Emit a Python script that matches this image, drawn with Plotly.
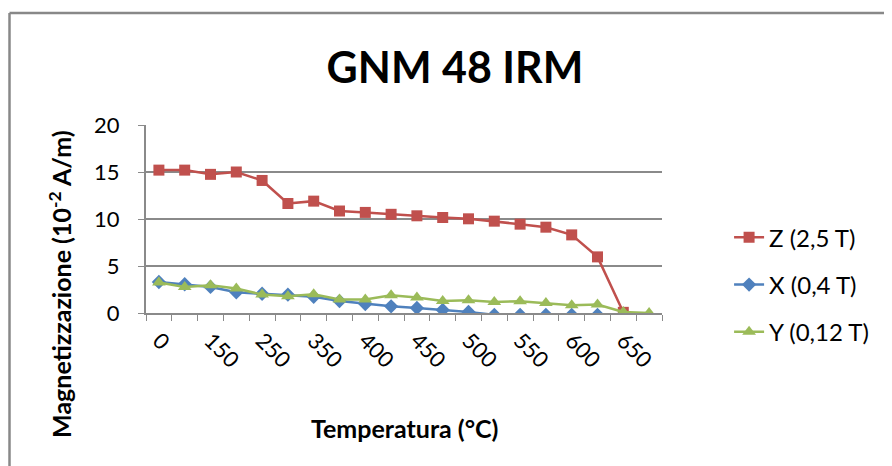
import plotly.graph_objects as go

temperatures = ["0", "100", "150", "200", "250", "300", "350", "375", "400", "425",
                "450", "475", "500", "525", "550", "575", "600", "625", "650", "675"]
tick_labels = ["0", "", "150", "", "250", "", "350", "", "400", "",
               "450", "", "500", "", "550", "", "600", "", "650", ""]

z_25T = [15.2, 15.2, 14.75, 15.0, 14.1, 11.65, 11.9, 10.85, 10.7, 10.5,
         10.34, 10.16, 10.02, 9.77, 9.45, 9.13, 8.31, 5.97, 0.07]
x_04T = [3.3, 3.06, 2.77, 2.2, 2.05, 1.95, 1.72, 1.27, 0.95, 0.71,
         0.53, 0.33, 0.11, -0.2, -0.2, -0.2, -0.2, -0.2, -0.2]
y_012T = [3.24, 2.77, 2.95, 2.6, 1.96, 1.78, 1.99, 1.43, 1.43, 1.89,
          1.64, 1.28, 1.35, 1.17, 1.25, 1.07, 0.82, 0.9, 0.1, 0.0]

FONT = "Lato"
GRID = "#8a8a8a"
OFF = 8  # page body margin

fig = go.Figure()
series = [
    ("Z (2,5 T)", z_25T, "#C0504D", "square", 11),
    ("X (0,4 T)", x_04T, "#4F81BD", "diamond", 11),
    ("Y (0,12 T)", y_012T, "#9BBB59", "triangle-up", 12),
]
for name, values, color, symbol, size in series:
    fig.add_scatter(
        x=temperatures[:len(values)], y=values, name=name, mode="lines+markers",
        line=dict(color=color, width=2.5),
        marker=dict(symbol=symbol, size=size, color=color),
        legendgroup=name,
    )

fig.update_layout(
    width=892, height=466,
    margin=dict(l=146 - OFF, r=892 - 662 + OFF, t=125 - OFF, b=466 - 313 + OFF),
    paper_bgcolor="white", plot_bgcolor="white",
    font=dict(family=FONT, size=22, color="black"),
    title=dict(text="<b>GNM 48 IRM</b>", font=dict(size=43, family=FONT),
               x=(455 - OFF) / 892, xanchor="center",
               y=1 - (68 - OFF) / 466, yanchor="middle"),
    legend=dict(x=1.13, xanchor="left", y=0.52, yanchor="top",
                tracegroupgap=13, font=dict(size=24)),
    showlegend=True,
)
fig.update_xaxes(
    type="category", categoryorder="array", categoryarray=temperatures,
    range=[-0.5, len(temperatures) - 0.5],
    tickvals=temperatures, ticktext=tick_labels, tickson="boundaries",
    tickangle=45, ticks="outside", ticklen=6, tickcolor=GRID,
    showline=True, linecolor=GRID, linewidth=2, showgrid=False,
    ticklabelstandoff=4,
)
fig.update_yaxes(
    range=[0, 20], dtick=5, ticks="outside", ticklen=6, tickcolor=GRID,
    showline=True, linecolor=GRID, linewidth=2,
    showgrid=True, gridcolor=GRID, gridwidth=2, zeroline=False,
    ticklabelstandoff=14,
)

fig.add_annotation(text="<b>Magnetizzazione (10<sup>-2</sup> A/m)</b>", textangle=-90,
                   xref="paper", yref="paper", x=-0.167, y=0.154,
                   xanchor="center", yanchor="middle",
                   showarrow=False, font=dict(size=25))
fig.add_annotation(text="<b>Temperatura (°C)</b>",
                   xref="paper", yref="paper", x=0.5, y=-0.612,
                   xanchor="center", yanchor="middle",
                   showarrow=False, font=dict(size=25))

# chart border (top and left edges visible in the frame)
x0, y0 = (9.5 - 146) / 516, (313 - 13) / 188
fig.add_shape(type="line", xref="paper", yref="paper", x0=x0, x1=1.6, y0=y0, y1=y0,
              line=dict(color="#888888", width=2.5))
fig.add_shape(type="line", xref="paper", yref="paper", x0=x0, x1=x0, y0=y0, y1=-0.9,
              line=dict(color="#888888", width=2.5))

fig.write_html("out.html")
